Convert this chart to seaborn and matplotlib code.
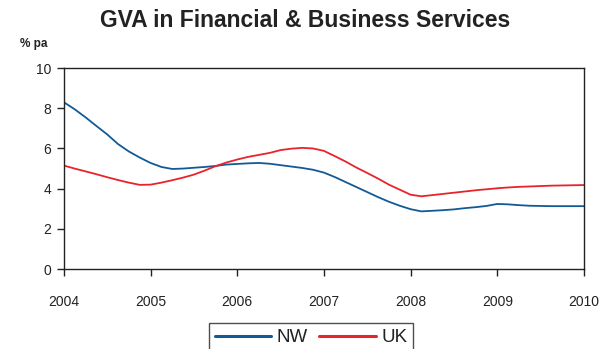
import matplotlib
matplotlib.use("Agg")
import matplotlib.pyplot as plt
import seaborn as sns
import pandas as pd

# Growth in gross value added, % per annum, sampled every eighth of a year
periods = [2004.0 + 0.125 * i for i in range(49)]
nw = [8.3, 7.95, 7.55, 7.12, 6.7, 6.22, 5.85, 5.55,
      5.28, 5.08, 4.98, 5.0, 5.04, 5.08, 5.13, 5.2,
      5.23, 5.26, 5.28, 5.24, 5.17, 5.1, 5.03, 4.94,
      4.8, 4.58, 4.33, 4.08, 3.83, 3.58, 3.35, 3.15,
      2.98, 2.87, 2.9, 2.93, 2.97, 3.03, 3.08, 3.14,
      3.24, 3.22, 3.18, 3.15, 3.14, 3.13, 3.13, 3.13,
      3.13]
uk = [5.15, 5.0, 4.86, 4.72, 4.57, 4.43, 4.3, 4.19,
      4.2, 4.3, 4.42, 4.55, 4.7, 4.9, 5.12, 5.3,
      5.45, 5.58, 5.68, 5.78, 5.92, 5.99, 6.03, 6.0,
      5.88, 5.62, 5.35, 5.05, 4.78, 4.5, 4.2, 3.95,
      3.7, 3.62, 3.68, 3.74, 3.8, 3.86, 3.92, 3.97,
      4.02, 4.06, 4.09, 4.11, 4.13, 4.15, 4.16, 4.17,
      4.18]
series_names = ["NW", "UK"]
year_ticks = [2004, 2005, 2006, 2007, 2008, 2009, 2010]
y_ticks = [0, 2, 4, 6, 8, 10]

df = pd.DataFrame({
    "year": periods * 2,
    "value": nw + uk,
    "region": [series_names[0]] * len(nw) + [series_names[1]] * len(uk),
})

sns.set_theme(style="white")
plt.rcParams["font.family"] = ["Liberation Sans", "DejaVu Sans"]

fig = plt.figure(figsize=(6.08, 3.49), dpi=100)
ax = fig.add_axes([0.105, 0.229, 0.8555, 0.576])

palette = {"NW": "#125a96", "UK": "#e8232c"}
sns.lineplot(data=df, x="year", y="value", hue="region", palette=palette,
             linewidth=1.3, ax=ax, legend=False)

ax.set_xlim(2004, 2010)
ax.set_ylim(0, 10)
ax.set_xticks(year_ticks)
ax.set_xticklabels([str(y) for y in year_ticks])
ax.set_yticks(y_ticks)
ax.set_xlabel("")
ax.set_ylabel("")

for s in ax.spines.values():
    s.set_color("#222222")
    s.set_linewidth(1.0)
    s.set_visible(True)

ax.tick_params(axis="x", direction="out", length=5, width=1, color="#222222",
               pad=14, labelsize=10, labelcolor="#222222", bottom=True)
ax.tick_params(axis="y", direction="out", length=5, width=1, color="#222222",
               pad=4, labelsize=10, labelcolor="#222222", left=True)

fig.text(0.502, 0.94, "GVA in Financial & Business Services", ha="center",
         va="center", fontsize=16.5, fontweight="bold", color="#222222")
fig.text(0.033, 0.873, "% pa", ha="left", va="center", fontsize=8.5,
         fontweight="bold", color="#222222")

handles = [plt.Line2D([], [], color=palette[n], linewidth=2.2) for n in series_names]
leg = fig.legend(handles, series_names, loc="upper center",
                 bbox_to_anchor=(0.512, 0.1), ncol=2, frameon=True,
                 fontsize=13.5, handlelength=3.0, handletextpad=0.3,
                 columnspacing=0.6, fancybox=False, borderpad=0.3)
leg.get_frame().set_edgecolor("#222222")
leg.get_frame().set_linewidth(1.0)
for t in leg.get_texts():
    t.set_color("#222222")

fig.savefig("out.png", dpi=100)
